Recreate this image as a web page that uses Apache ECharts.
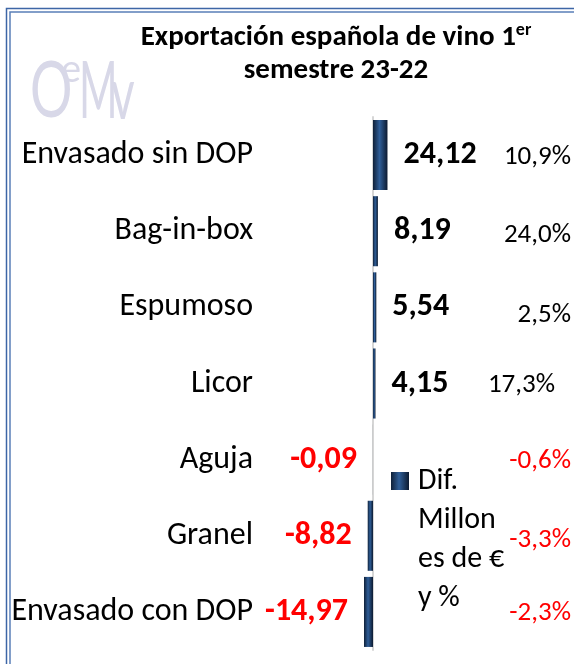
<!DOCTYPE html>
<html>
<head>
<meta charset="utf-8">
<script src="https://cdn.jsdelivr.net/npm/echarts@6/dist/echarts.min.js"></script>
<style>
  html, body { margin: 0; padding: 0; background: #fff; }
  #chart { width: 574px; height: 664px; }
</style>
</head>
<body>
<div id="chart"></div>
<script>
const categories = ['Envasado sin DOP', 'Bag-in-box', 'Espumoso', 'Licor', 'Aguja', 'Granel', 'Envasado con DOP']
const difValues = [24.12, 8.19, 5.54, 4.15, -0.09, -8.82, -14.97]
const pctLabels = ['10,9%', '24,0%', '2,5%', '17,3%', '-0,6%', '-3,3%', '-2,3%']
const seriesName = 'Dif. Millones de € y %'

const FONT = 'Carlito, Lato, sans-serif'
const fmt = (v) => v.toFixed(2).replace('.', ',')

const barColor = new echarts.graphic.LinearGradient(0, 0, 1, 0, [
  { offset: 0, color: '#0f2038' },
  { offset: 0.45, color: '#2f5e98' },
  { offset: 1, color: '#0c1a30' },
])

// percent labels get a few small nudges, as in the source
const pctNudge = [[0, 2], [0, 4], [0, 8], [-16, 2], [0, 2], [0, 4], [0, 1]]

const chart = echarts.init(document.getElementById('chart'))

const option = {
  backgroundColor: '#fff',
  animation: false,
  title: {
    text: 'Exportación española de vino 1{sup|er}\n{l2|semestre 23-22}',
    left: 331,
    top: 16,
    textAlign: 'center',
    textStyle: {
      fontFamily: FONT,
      fontWeight: 'bold',
      fontSize: 29,
      lineHeight: 33,
      color: '#000',
      rich: {
        sup: { fontFamily: FONT, fontWeight: 'bold', fontSize: 18, verticalAlign: 'top', padding: [0, 0, 14, 0], color: '#000' },
        l2: { fontFamily: FONT, fontWeight: 'bold', fontSize: 29, color: '#000' },
      },
    },
  },
  legend: {
    data: [seriesName],
    left: 386,
    top: 457,
    // square drawn near the top of a tall icon box so it sits next to the first text line
    icon: 'path://M0,10h18v18h-18z M0,0h0.01v0.01h-0.01z M0,156h0.01v0.01h-0.01z',
    itemWidth: 18,
    itemHeight: 156,
    formatter: () => 'Dif.\nMillon\nes de €\ny %',
    textStyle: {
      fontFamily: FONT,
      fontSize: 30,
      lineHeight: 39,
      color: '#000',
      padding: [0, 0, 0, 4],
    },
  },
  grid: { left: 361, width: 210, top: 117, bottom: 14 },
  xAxis: [
    { type: 'value', min: -20, max: 330, show: false },
    { type: 'value', min: 0, max: 1, show: false },
  ],
  yAxis: {
    type: 'category',
    data: categories,
    inverse: true,
    axisTick: { show: false },
    axisLine: { show: true, onZero: true, lineStyle: { color: '#d6d6d6', width: 2 } },
    axisLabel: {
      margin: 108,
      fontFamily: FONT,
      fontSize: 32,
      color: '#000',
    },
  },
  series: [
    {
      name: seriesName,
      type: 'bar',
      barCategoryGap: '8%',
      itemStyle: { color: barColor },
      label: {
        show: true,
        formatter: (p) => fmt(p.value),
        fontFamily: FONT,
        fontWeight: 'bold',
        fontSize: 32,
        distance: 16,
      },
      data: difValues.map((v) => ({
        value: v,
        label: {
          position: v >= 0 ? 'right' : 'left',
          color: v >= 0 ? '#000' : '#ff0000',
        },
      })),
    },
    {
      type: 'scatter',
      xAxisIndex: 1,
      symbolSize: 0,
      silent: true,
      itemStyle: { opacity: 1 },
      label: {
        show: true,
        position: 'left',
        distance: 0,
        opacity: 1,
        formatter: (p) => p.name,
        fontFamily: FONT,
        fontSize: 27,
      },
      data: pctLabels.map((t, i) => ({
        value: [1, categories[i]],
        name: t,
        label: {
          color: t.startsWith('-') ? '#ff0000' : '#000',
          offset: pctNudge[i],
        },
      })),
    },
  ],
  graphic: [
    // double frame
    { type: 'rect', shape: { x: 6.5, y: 8.5, width: 640, height: 700 }, style: { fill: 'none', stroke: '#3d66a6', lineWidth: 1.5 }, silent: true },
    { type: 'rect', shape: { x: 10, y: 12, width: 640, height: 700 }, style: { fill: 'none', stroke: '#5a7fb8', lineWidth: 1.5 }, silent: true },
    // OeMv logo
    { type: 'text', x: 30, y: 92, scaleX: 0.68, style: { text: 'O', font: '78px Lato, sans-serif', fill: '#d8d8e8', verticalAlign: 'middle' }, silent: true },
    { type: 'text', x: 61, y: 70, style: { text: 'e', font: '38px Lato, sans-serif', fill: '#d8d8e8', verticalAlign: 'middle' }, silent: true },
    { type: 'text', x: 79, y: 92, scaleX: 0.52, style: { text: 'M', font: '80px Lato, sans-serif', fill: '#d8d8e8', verticalAlign: 'middle' }, silent: true },
    { type: 'text', x: 111, y: 95, scaleX: 0.62, style: { text: 'v', font: '74px Lato, sans-serif', fill: '#d8d8e8', verticalAlign: 'middle' }, silent: true },
  ],
}

chart.setOption(option)
window.addEventListener('resize', () => chart.resize())
</script>
</body>
</html>
